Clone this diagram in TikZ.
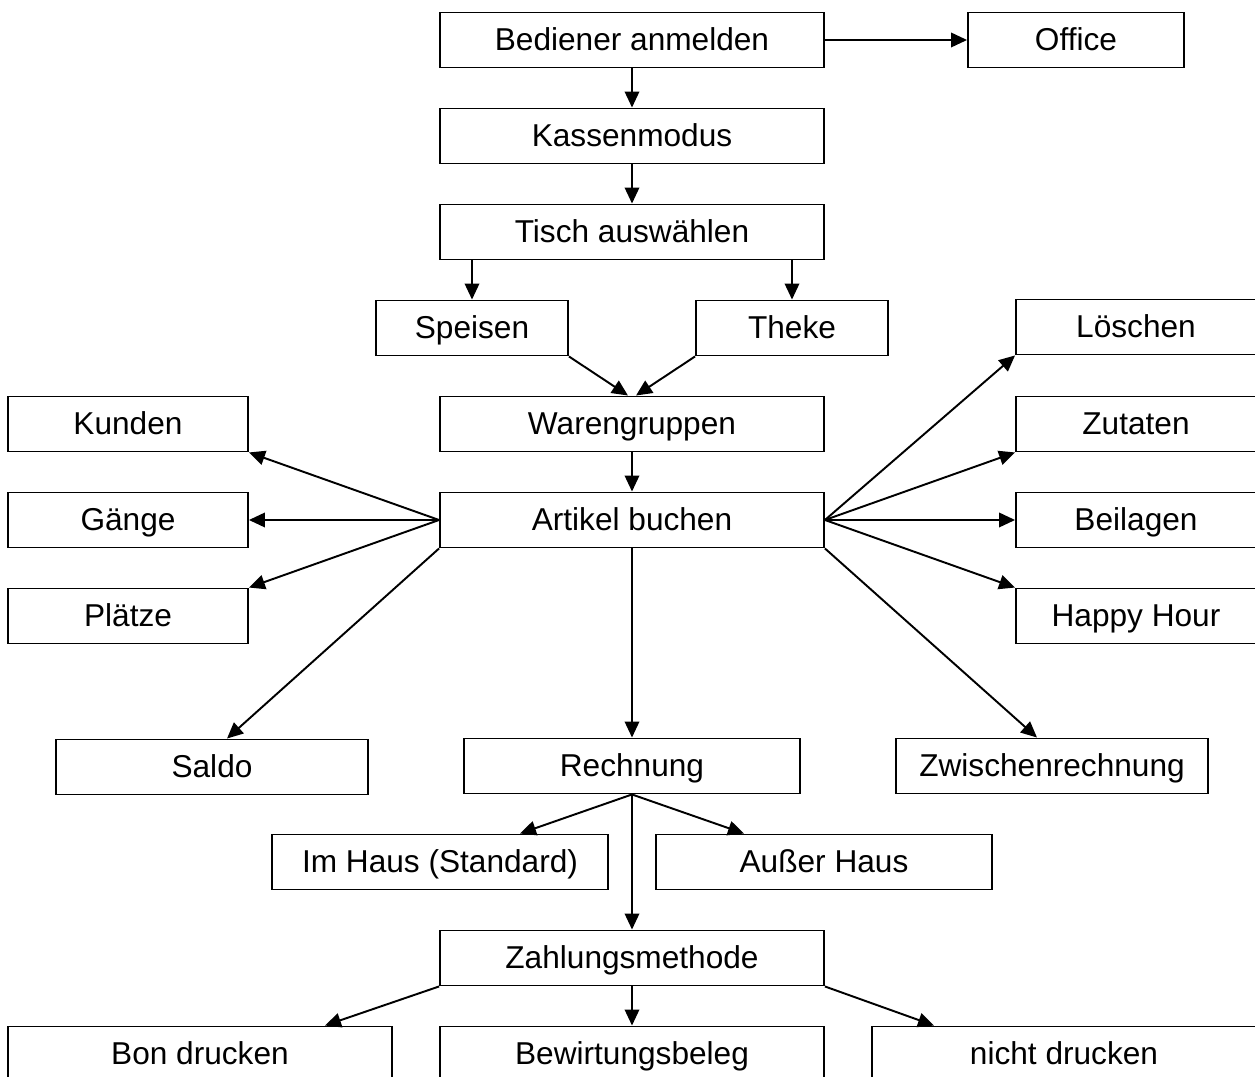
\documentclass[tikz,border=0pt]{standalone}
\usepackage{fontspec}
\setmainfont{Liberation Sans}
\usetikzlibrary{arrows.meta}

\begin{document}
\begin{tikzpicture}[x=0.02cm,y=-0.02cm,
  box/.style={draw,line width=1.1pt,minimum height=1.1cm,inner sep=0pt,
              text height=13pt,text depth=0.5pt,
              font=\fontsize{18}{22}\selectfont},
  wide/.style={box,minimum width=7.68cm},
  half/.style={box,minimum width=6.72cm},
  side/.style={box,minimum width=4.8cm},
  small/.style={box,minimum width=3.84cm},
  mid/.style={box,minimum width=6.24cm},
  arr/.style={-{Triangle[length=0.32cm,width=0.29cm]},line width=1.1pt}]
\useasboundingbox (0,0) rectangle (1255,1077);

\node[wide]  (anm) at (632,40)   {Bediener anmelden};
\node[box,minimum width=4.32cm] (off) at (1076,40) {Office};
\node[wide]  (kas) at (632,136)  {Kassenmodus};
\node[wide]  (tis) at (632,232)  {Tisch auswählen};
\node[small] (spe) at (472,328)  {Speisen};
\node[small] (the) at (792,328)  {Theke};
\node[side]  (loe) at (1136,327) {Löschen};
\node[side]  (kun) at (128,424)  {Kunden};
\node[wide]  (war) at (632,424)  {Warengruppen};
\node[side]  (zut) at (1136,424) {Zutaten};
\node[side]  (gae) at (128,520)  {Gänge};
\node[wide]  (art) at (632,520)  {Artikel buchen};
\node[side]  (bei) at (1136,520) {Beilagen};
\node[side]  (pla) at (128,616)  {Plätze};
\node[side]  (hap) at (1136,616) {Happy Hour};
\node[mid]   (sal) at (212,767)  {Saldo};
\node[half]  (rec) at (632,766)  {Rechnung};
\node[mid]   (zwi) at (1052,766) {Zwischenrechnung};
\node[half]  (imh) at (440,862)  {Im Haus (Standard)};
\node[half]  (aus) at (824,862)  {Außer Haus};
\node[wide]  (zah) at (632,958)  {Zahlungsmethode};
\node[wide]  (bon) at (200,1054) {Bon drucken};
\node[wide]  (bew) at (632,1054) {Bewirtungsbeleg};
\node[wide]  (nic) at (1064,1054) {nicht drucken};

\draw[arr] (anm.east) -- (off.west);
\draw[arr] (anm.south) -- (kas.north);
\draw[arr] (kas.south) -- (tis.north);
\draw[arr] (spe.north |- tis.south) -- (spe.north);
\draw[arr] (the.north |- tis.south) -- (the.north);
\draw[arr] (spe.south east) -- ([xshift=-0.08cm]war.north);
\draw[arr] (the.south west) -- ([xshift=0.08cm]war.north);
\draw[arr] (war.south) -- (art.north);
\draw[arr] (art.west) -- (kun.south east);
\draw[arr] (art.west) -- (gae.east);
\draw[arr] (art.west) -- (pla.north east);
\draw[arr] (art.east) -- (loe.south west);
\draw[arr] (art.east) -- (zut.south west);
\draw[arr] (art.east) -- (bei.west);
\draw[arr] (art.east) -- (hap.north west);
\draw[arr] (art.south west) -- ([xshift=0.3cm]sal.north);
\draw[arr] (art.south) -- (rec.north);
\draw[arr] (art.south east) -- ([xshift=-0.3cm]zwi.north);
\draw[arr] (rec.south) -- ([xshift=1.6cm]imh.north);
\draw[arr] (rec.south) -- ([xshift=-1.6cm]aus.north);
\draw[arr] (rec.south) -- (zah.north);
\draw[arr] (zah.south west) -- ([xshift=2.5cm]bon.north);
\draw[arr] (zah.south) -- (bew.north);
\draw[arr] (zah.south east) -- ([xshift=-2.6cm]nic.north);
\end{tikzpicture}
\end{document}
